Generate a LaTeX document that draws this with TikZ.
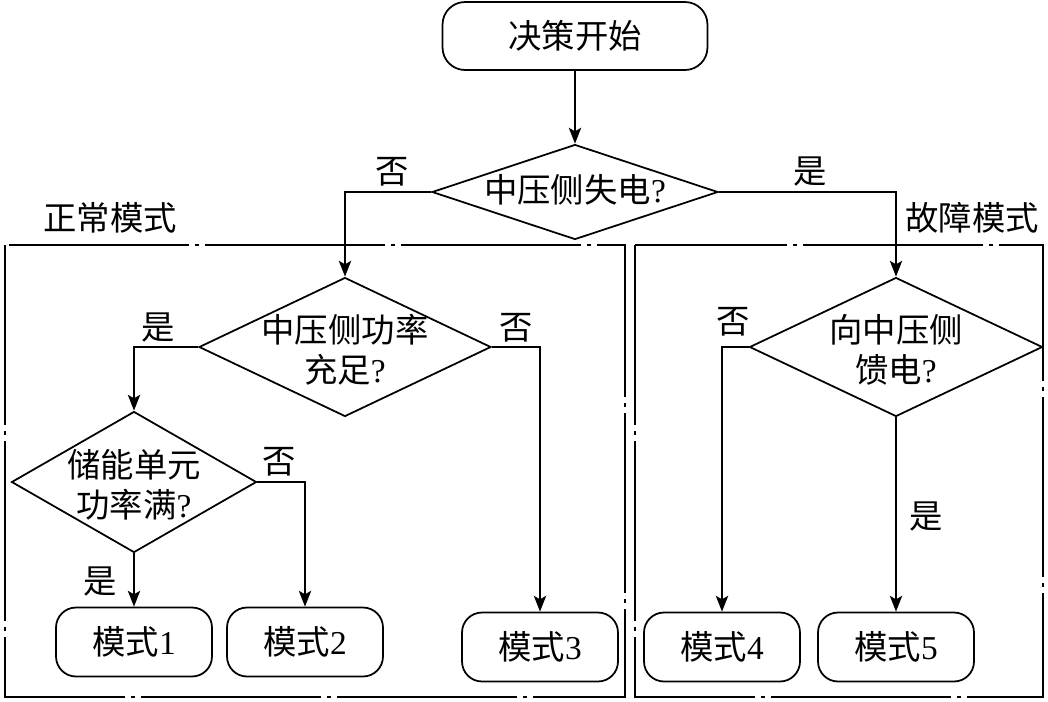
\documentclass[tikz,border=0pt]{standalone}
\usepackage{fontspec}
\setmainfont{Liberation Serif}
\newfontfamily\cjk{Noto Sans CJK SC}
\usetikzlibrary{arrows.meta,shapes.geometric}
\newcommand{\dtext}[2][-0.2cm]{\makebox[0pt]{\smash{\raisebox{#1}{\begin{tabular}{@{}c@{}}#2\end{tabular}}}}}
\tikzset{
  startBox/.style={draw,rounded corners=0.45cm,line width=1pt,minimum width=5.3cm,minimum height=1.36cm,inner sep=0pt},
  modeBox/.style={draw,rounded corners=0.4cm,line width=1pt,minimum width=3.12cm,minimum height=1.38cm,inner sep=0pt},
  decision/.style={draw,diamond,line width=1pt,inner sep=0pt},
  tag/.style={inner sep=0pt},
  flowLine/.style={line width=1pt,-{Stealth[length=9pt,width=7pt,inset=2pt]}},
  frameLine/.style={line width=0.8pt,dash pattern=on 3.6cm off 0.12cm on 0.08cm off 0.12cm}
}

\begin{document}
\begin{tikzpicture}[x=0.02cm,y=-0.02cm,every node/.style={font=\fontsize{19}{22}\selectfont}]
\useasboundingbox (0,0) rectangle (1048,701);
% frames
\draw[frameLine] (5,245) rectangle (625,697);
\draw[frameLine] (635,245) rectangle (1043,697);
\node[tag] (normal) at (110,218) {\cjk 正常模式};
\node[tag] (fault) at (972,218) {\cjk 故障模式};

% top
\node[startBox] (start) at (575,36) {\cjk 决策开始};
\node[decision,minimum width=5.72cm,minimum height=1.9cm] (lost) at (575,192) {\dtext{{\cjk 中压侧失电}?}};

% normal mode
\node[decision,minimum width=5.84cm,minimum height=2.78cm] (enough) at (345,347) {\dtext[-0.3cm]{{\cjk 中压侧功率}\\{\cjk 充足}?}};
\node[decision,minimum width=4.9cm,minimum height=2.82cm] (full) at (134,482) {\dtext[-0.3cm]{{\cjk 储能单元}\\{\cjk 功率满}?}};
\node[modeBox] (m1) at (134,642) {{\cjk 模式}1};
\node[modeBox] (m2) at (305,642) {{\cjk 模式}2};
\node[modeBox] (m3) at (540,647) {{\cjk 模式}3};

% fault mode
\node[decision,minimum width=5.86cm,minimum height=2.78cm] (feed) at (896,347) {\dtext[-0.3cm]{{\cjk 向中压侧}\\{\cjk 馈电}?}};
\node[modeBox] (m4) at (722,647) {{\cjk 模式}4};
\node[modeBox] (m5) at (896,647) {{\cjk 模式}5};

% connectors
\draw[flowLine] (start) -- (lost);
\draw[flowLine] (lost.west) -| (enough.north);
\draw[flowLine] (lost.east) -| (feed.north);
\draw[flowLine] (enough.west) -| (full.north);
\draw[flowLine] (enough.east) -| (m3.north);
\draw[flowLine] (full.south) -- (m1.north);
\draw[flowLine] (full.east) -| (m2.north);
\draw[flowLine] (feed.west) -| (m4.north);
\draw[flowLine] (feed.south) -- (m5.north);

% branch labels
\node[tag] (lostNo) at (392,172) {\cjk 否};
\node[tag] (lostYes) at (810,172) {\cjk 是};
\node[tag] (enoughYes) at (158,328) {\cjk 是};
\node[tag] (enoughNo) at (516,328) {\cjk 否};
\node[tag] (fullNo) at (279,462) {\cjk 否};
\node[tag] (fullYes) at (100,582) {\cjk 是};
\node[tag] (feedNo) at (733,322) {\cjk 否};
\node[tag] (feedYes) at (926,517) {\cjk 是};
\end{tikzpicture}
\end{document}
